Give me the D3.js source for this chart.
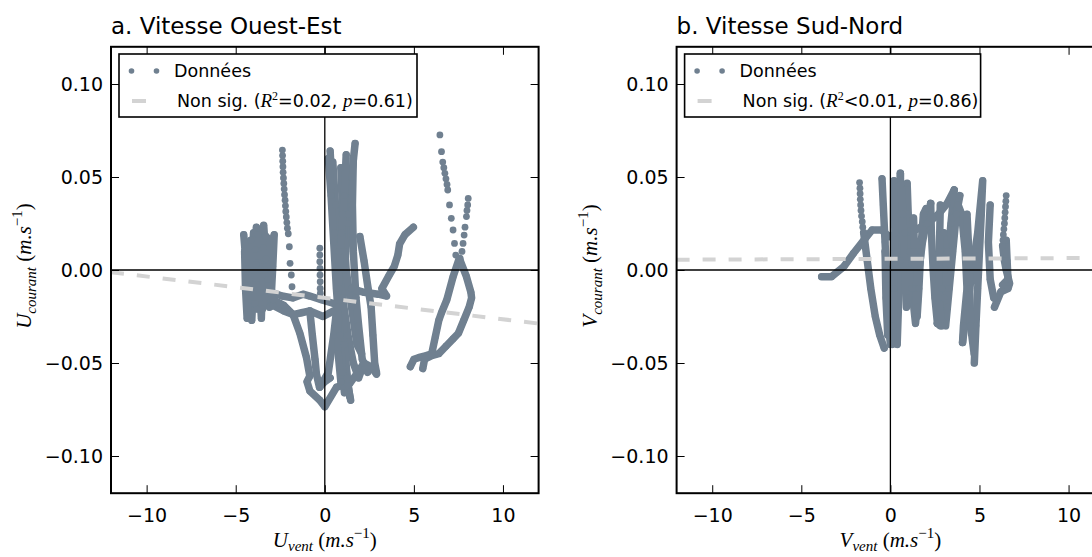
<!DOCTYPE html>
<html><head><meta charset="utf-8">
<script src="https://cdn.jsdelivr.net/npm/d3@7"></script>
<style>body{margin:0;background:#fff}svg{display:block}</style>
</head><body>
<svg id="c" width="1092" height="557"></svg>
<script>
// ---------------- data ----------------
const titles = ["a. Vitesse Ouest-Est", "b. Vitesse Sud-Nord"];
const xTicks = [-10, -5, 0, 5, 10];
const xTickLabels = ["\u221210", "\u22125", "0", "5", "10"];
const yTicks = [-0.10, -0.05, 0.00, 0.05, 0.10];
const yTickLabels = ["\u22120.10", "\u22120.05", "0.00", "0.05", "0.10"];
const xDomain = [-12, 12];
const yDomain = [-0.12, 0.12];
const legendPoints = "Données";
const statsU = ["=0.02, ", "=0.61)"];
const statsV = ["<0.01, ", "=0.86)"];
const fitU = [-0.00115, -0.015];   // slope, intercept
const fitV = [0.00004, 0.006];

const tracksU = [
 [[-4.55,0.019],[-4.42,0.004],[-4.28,-0.012],[-4.1,-0.027],[-4.0,-0.008],[-3.9,0.011],[-3.84,0.023],[-3.74,0.004],[-3.64,-0.012],[-3.56,-0.026],[-3.5,-0.006],[-3.45,0.012],[-3.43,0.024],[-3.3,0.006],[-3.16,-0.011],[-3.06,-0.019],[-2.96,0.0],[-2.84,0.019],[-2.92,0.002],[-3.0,-0.013]],
 [[-4.42,0.015],[-4.32,-0.004],[-4.22,-0.024],[-4.1,-0.002],[-4.0,0.02],[-3.9,0.0],[-3.8,-0.021],[-3.7,0.0],[-3.62,0.021],[-3.5,0.002],[-3.36,-0.015],[-3.26,0.002],[-3.16,0.017],[-3.08,0.0],[-3.02,-0.012],[-2.4,-0.014],[-1.8,-0.015],[-1.22,-0.013],[-0.84,-0.014],[-0.2,-0.016],[0.5,-0.018]],
 [[-4.5,0.01],[-4.45,-0.01],[-4.36,-0.026],[-4.25,-0.005],[-4.15,0.016],[-4.05,0.0],[-3.95,-0.018],[-3.85,0.003],[-3.75,0.019],[-3.6,0.0],[-3.5,-0.021],[-3.38,0.0],[-3.3,0.018],[-3.2,-0.005],[-3.1,-0.02],[-2.9,-0.019],[-2.3,-0.022],[-1.78,-0.024],[-1.3,-0.023],[-0.84,-0.022],[-0.1,-0.025],[0.5,-0.022]],
 [[-2.9,-0.016],[-2.3,-0.019],[-1.78,-0.024],[-1.4,-0.034],[-1.03,-0.047],[-0.84,-0.057],[-1.0,-0.06],[-0.84,-0.065],[-0.28,-0.07],[0.0,-0.0735],[0.66,-0.063],[1.4,-0.061],[1.78,-0.056],[2.2,-0.05]],
 [[-0.84,-0.022],[-0.7,-0.035],[-0.55,-0.048],[-0.47,-0.056],[-0.3,-0.063],[0.0,-0.06],[0.3,-0.058]],
 [[0.3,0.064],[0.4,0.045],[0.55,0.02],[0.7,0.0],[0.85,-0.02],[1.05,-0.04],[1.25,-0.058],[1.4,-0.068]],
 [[1.7,0.068],[1.5,0.05],[1.3,0.03],[1.05,0.01],[0.8,-0.01],[0.5,-0.035],[0.2,-0.055],[-0.28,-0.063]],
 [[0.45,0.058],[0.6,0.035],[0.8,0.01],[1.0,-0.015],[1.3,-0.035],[1.6,-0.05],[1.9,-0.058],[2.2,-0.05],[2.6,-0.052],[2.9,-0.056]],
 [[1.5,0.042],[1.3,0.025],[1.1,0.0],[1.0,-0.02],[1.1,-0.04],[1.3,-0.062],[1.45,-0.07]],
 [[0.9,0.055],[1.0,0.03],[1.2,0.0],[1.5,-0.02],[1.8,-0.04],[2.06,-0.045]],
 [[0.2,0.06],[0.35,0.04],[0.5,0.015],[0.65,-0.01],[0.85,-0.035],[1.0,-0.055],[1.1,-0.066]],
 [[1.2,0.062],[1.1,0.04],[0.95,0.02],[0.8,0.0],[0.7,-0.02],[0.75,-0.045],[0.9,-0.06]],
 [[1.6,0.06],[1.55,0.035],[1.6,0.01],[1.75,-0.015],[1.9,-0.03],[2.1,-0.048],[2.4,-0.055]],
 [[1.97,0.018],[2.2,0.005],[2.4,-0.008],[2.6,-0.02],[2.7,-0.035],[2.8,-0.05],[2.9,-0.055]],
 [[1.5,-0.01],[2.2,-0.012],[3.0,-0.013],[3.47,-0.014],[3.2,-0.01],[3.6,-0.003],[3.9,0.002],[4.1,0.008],[4.2,0.014],[4.5,0.019],[4.97,0.023]],
 [[7.55,0.0063],[7.2,-0.0036],[6.85,-0.016],[6.55,-0.023],[6.4,-0.027],[6.2,-0.036],[6.0,-0.045],[5.7,-0.046],[5.3,-0.047],[5.0,-0.048],[4.8,-0.052]],
 [[7.6,0.005],[7.95,-0.0036],[8.2,-0.012],[8.24,-0.015],[8.1,-0.02],[7.8,-0.027],[7.5,-0.034],[7.2,-0.037],[6.8,-0.041],[6.4,-0.045],[6.0,-0.046],[5.6,-0.048],[5.5,-0.053]]
];
const dotsU = [
 [[-2.38,0.0645],[-2.37,0.0615],[-2.36,0.0585],[-2.35,0.0555],[-2.34,0.0525],[-2.32,0.0495],[-2.3,0.0465],[-2.28,0.0435],[-2.26,0.0405],[-2.23,0.0375],[-2.21,0.0345],[-2.19,0.0315],[-2.16,0.0285],[-2.13,0.0255],[-2.1,0.0225],[-2.05,0.0195],[-1.99,0.0125],[-1.95,0.0036],[-1.88,-0.0027],[-1.84,-0.009]],
 [[-0.28,0.0117],[-0.28,0.0081],[-0.28,0.0045],[-0.27,0.0009],[-0.27,-0.0027],[-0.26,-0.0063],[-0.26,-0.0099],[-0.25,-0.0125]],
 [[6.46,0.0726],[6.55,0.0636],[6.62,0.058],[6.68,0.055],[6.74,0.052],[6.8,0.049],[6.86,0.046],[6.9,0.043],[7.0,0.035],[7.1,0.0278],[7.2,0.0215],[7.28,0.0143],[7.35,0.008]],
 [[8.05,0.0385],[8.02,0.035],[7.98,0.032],[7.95,0.0287],[7.87,0.023],[7.82,0.0188],[7.76,0.0143],[7.7,0.01],[7.6,0.0063]]
];
const tracksV = [
 [[-3.86,-0.0036],[-3.3,-0.0036],[-2.6,0.002],[-2.07,0.009],[-1.41,0.017],[-1.03,0.0215],[-0.47,0.0215],[-0.1,0.018]],
 [[-1.5,0.02],[-1.3,0.005],[-1.1,-0.01],[-0.85,-0.025],[-0.6,-0.035],[-0.35,-0.042]],
 [[-0.47,0.049],[-0.4,0.035],[-0.3,0.015],[-0.2,-0.005],[-0.1,-0.02],[-0.05,-0.035],[0.0,-0.04],[0.1,-0.03],[0.2,-0.01],[0.35,0.01],[0.5,0.03],[0.56,0.052]],
 [[0.56,0.052],[0.6,0.03],[0.55,0.005],[0.45,-0.02],[0.38,-0.04]],
 [[0.94,0.0466],[1.0,0.03],[1.1,0.01],[1.2,-0.01],[1.41,-0.0287],[1.5,-0.02],[1.6,0.0],[1.8,0.015],[2.0,0.025],[2.26,0.0358]],
 [[2.26,0.0358],[2.3,0.02],[2.4,0.0],[2.5,-0.015],[2.64,-0.0287]],
 [[-0.1,0.018],[0.8,0.02],[1.5,0.022],[2.07,0.025],[2.7,0.03],[3.2,0.036],[3.58,0.043]],
 [[3.58,0.043],[3.4,0.025],[3.2,0.005],[3.0,-0.015],[2.8,-0.03],[2.64,-0.0287]],
 [[2.64,-0.0287],[2.9,-0.01],[3.2,0.01],[3.5,0.028],[3.8,0.035],[4.0,0.03],[4.2,0.01],[4.3,-0.01],[4.1,-0.03],[4.05,-0.039]],
 [[4.05,-0.039],[4.3,-0.02],[4.6,0.0],[4.9,0.02],[5.18,0.048],[5.1,0.03],[5.0,0.01],[4.9,-0.01],[4.8,-0.03],[4.71,-0.05]],
 [[6.3,0.013],[6.4,0.005],[6.5,0.0],[6.69,-0.0072],[6.6,-0.01],[6.2,-0.0117],[5.84,-0.02]],
 [[1.3,0.028],[1.35,0.01],[1.4,-0.01],[1.5,-0.025],[1.6,-0.01],[1.7,0.01],[1.85,0.03],[2.0,0.033]],
 [[3.0,0.02],[3.1,0.0],[3.2,-0.02],[3.1,-0.03],[3.3,-0.01],[3.5,0.01],[3.7,0.03],[3.9,0.04]],
 [[-0.3,0.01],[-0.25,-0.015],[-0.15,-0.035],[0.05,-0.03],[0.15,-0.01],[0.3,0.02],[0.4,0.045],[0.6,0.046],[0.7,0.03],[0.8,0.0],[0.9,-0.02],[1.0,-0.015],[1.1,0.0]],
 [[0.2,0.048],[0.25,0.02],[0.2,-0.01],[0.15,-0.03],[0.1,-0.04]],
 [[2.8,0.035],[2.75,0.01],[2.7,-0.015],[2.9,-0.03]],
 [[4.3,0.03],[4.4,0.01],[4.45,-0.01],[4.5,-0.03],[4.7,-0.045]],
 [[5.6,0.035],[5.5,0.015],[5.6,-0.005],[5.8,-0.015]],
 [[6.5,0.016],[6.55,0.005],[6.6,-0.005],[6.3,-0.008]]
];
const dotsV = [
 [[-1.73,0.047],[-1.71,0.044],[-1.7,0.041],[-1.69,0.038],[-1.67,0.035],[-1.65,0.032],[-1.62,0.029],[-1.58,0.026],[-1.55,0.023]],
 [[6.5,0.040],[6.48,0.037],[6.46,0.034],[6.44,0.031],[6.42,0.028],[6.4,0.025],[6.37,0.022],[6.34,0.019],[6.32,0.016]]
];

// ---------------- drawing ----------------
const svg = d3.select("#c");
const PT = "#708090", FIT = "#d3d3d3";
const SANS = "DejaVu Sans, sans-serif", SERIF = "Liberation Serif, serif";
const TOP = 46.8, BOTTOM = 493.2, W = 427.6;

const panels = [
  {left: 111, title: titles[0], tracks: tracksU, dots: dotsU, fit: fitU, stats: statsU, sym: "U"},
  {left: 676.6, title: titles[1], tracks: tracksV, dots: dotsV, fit: fitV, stats: statsV, sym: "V"}
];

panels.forEach((p, pi) => {
  const x = d3.scaleLinear().domain(xDomain).range([p.left, p.left + W]);
  const y = d3.scaleLinear().domain(yDomain).range([BOTTOM, TOP]);
  const g = svg.append("g");
  const cid = "clip" + pi;
  g.append("clipPath").attr("id", cid).append("rect")
    .attr("x", p.left).attr("y", TOP).attr("width", W).attr("height", BOTTOM - TOP);
  const plot = g.append("g").attr("clip-path", `url(#${cid})`);

  const line = d3.line().x(d => x(d[0])).y(d => y(d[1])).curve(d3.curveLinear);
  plot.selectAll("path.trk").data(p.tracks).join("path").attr("class", "trk")
    .attr("d", line).attr("fill", "none").attr("stroke", PT)
    .attr("stroke-width", 7.5).attr("stroke-linejoin", "round").attr("stroke-linecap", "round");
  const allDots = p.tracks.flat().concat(p.dots.flat());
  plot.selectAll("circle.pt").data(allDots).join("circle").attr("class", "pt")
    .attr("cx", d => x(d[0])).attr("cy", d => y(d[1])).attr("r", 3.4).attr("fill", PT);

  // zero lines
  plot.append("line").attr("x1", x(xDomain[0])).attr("x2", x(xDomain[1]))
    .attr("y1", y(0)).attr("y2", y(0)).attr("stroke", "#000").attr("stroke-width", 1.3);
  plot.append("line").attr("x1", x(0)).attr("x2", x(0))
    .attr("y1", y(yDomain[0])).attr("y2", y(yDomain[1])).attr("stroke", "#000").attr("stroke-width", 1.3);

  // regression
  plot.append("line")
    .attr("x1", x(xDomain[0])).attr("y1", y(p.fit[0] * xDomain[0] + p.fit[1]))
    .attr("x2", x(xDomain[1])).attr("y2", y(p.fit[0] * xDomain[1] + p.fit[1]))
    .attr("stroke", FIT).attr("stroke-width", 4).attr("stroke-dasharray", "13,13");

  // axes
  const styleAx = (sel) => {
    sel.select(".domain").remove();
    sel.selectAll(".tick line").attr("stroke", "#000").attr("stroke-width", 1);
    sel.selectAll(".tick text").attr("fill", "#000").style("font-family", SANS).style("font-size", "19px");
  };
  g.append("g").attr("transform", `translate(0,${BOTTOM})`)
    .call(d3.axisBottom(x).tickValues(xTicks).tickFormat((d, i) => xTickLabels[i]).tickSizeInner(-8).tickSizeOuter(0).tickPadding(15))
    .call(styleAx);
  g.append("g").attr("transform", `translate(0,${TOP})`)
    .call(d3.axisTop(x).tickValues(xTicks).tickFormat("").tickSizeInner(-8).tickSizeOuter(0))
    .call(styleAx);
  g.append("g").attr("transform", `translate(${p.left},0)`)
    .call(d3.axisLeft(y).tickValues(yTicks).tickFormat((d, i) => yTickLabels[i]).tickSizeInner(-8).tickSizeOuter(0).tickPadding(8))
    .call(styleAx);
  g.append("g").attr("transform", `translate(${p.left + W},0)`)
    .call(d3.axisRight(y).tickValues(yTicks).tickFormat("").tickSizeInner(-8).tickSizeOuter(0))
    .call(styleAx);

  g.append("rect").attr("x", p.left).attr("y", TOP).attr("width", W).attr("height", BOTTOM - TOP)
    .attr("fill", "none").attr("stroke", "#000").attr("stroke-width", 2);

  // title
  g.append("text").attr("x", p.left).attr("y", 34).text(p.title)
    .style("font-family", SANS).style("font-size", "23px").attr("fill", "#000");

  // x label
  const xl = g.append("text").attr("x", x(0)).attr("y", 547).attr("text-anchor", "middle")
    .style("font-family", SERIF).style("font-size", "21px");
  xl.append("tspan").style("font-style", "italic").text(p.sym);
  xl.append("tspan").style("font-style", "italic").style("font-size", "15px").attr("dy", 4).text("vent");
  xl.append("tspan").attr("dy", -4).text(" (");
  xl.append("tspan").style("font-style", "italic").text("m.s");
  xl.append("tspan").style("font-size", "15px").attr("dy", -9).text("\u22121");
  xl.append("tspan").attr("dy", 9).text(")");

  // y label
  const yl = g.append("text").attr("transform", `translate(${p.left - 80},${(TOP + BOTTOM) / 2 - 4}) rotate(-90)`)
    .attr("text-anchor", "middle").style("font-family", SERIF).style("font-size", "21px");
  yl.append("tspan").style("font-style", "italic").text(p.sym);
  yl.append("tspan").style("font-style", "italic").style("font-size", "15px").attr("dy", 5).text("courant");
  yl.append("tspan").attr("dy", -5).text(" (");
  yl.append("tspan").style("font-style", "italic").text("m.s");
  yl.append("tspan").style("font-size", "15px").attr("dy", -9).text("\u22121");
  yl.append("tspan").attr("dy", 9).text(")");

  // legend
  const lx = p.left + 8, ly = 54;
  const lg = g.append("g");
  const lw = pi === 0 ? 298 : 296;
  lg.append("rect").attr("x", lx).attr("y", ly).attr("width", lw).attr("height", 63)
    .attr("fill", "#fff").attr("stroke", "#000").attr("stroke-width", 1.6);
  [p.left + 20.5, p.left + 45.5].forEach(cx =>
    lg.append("circle").attr("cx", cx).attr("cy", 71).attr("r", 2.8).attr("fill", PT));
  lg.append("text").attr("x", p.left + 63).attr("y", 77).text(legendPoints)
    .style("font-family", SANS).style("font-size", "17.5px");
  lg.append("line").attr("x1", p.left + 21).attr("x2", p.left + 35).attr("y1", 101).attr("y2", 101)
    .attr("stroke", FIT).attr("stroke-width", 4);
  const t2 = lg.append("text").attr("x", p.left + 66).attr("y", 107)
    .style("font-family", SANS).style("font-size", "17.5px");
  t2.append("tspan").text("Non sig. (");
  t2.append("tspan").style("font-family", SERIF).style("font-style", "italic").style("font-size", "19px").text("R");
  t2.append("tspan").style("font-family", SERIF).style("font-size", "12px").attr("dy", -7).text("2");
  t2.append("tspan").attr("dy", 7).text(p.stats[0]);
  t2.append("tspan").style("font-family", SERIF).style("font-style", "italic").style("font-size", "19px").text("p");
  t2.append("tspan").text(p.stats[1]);
});
</script>
</body></html>
